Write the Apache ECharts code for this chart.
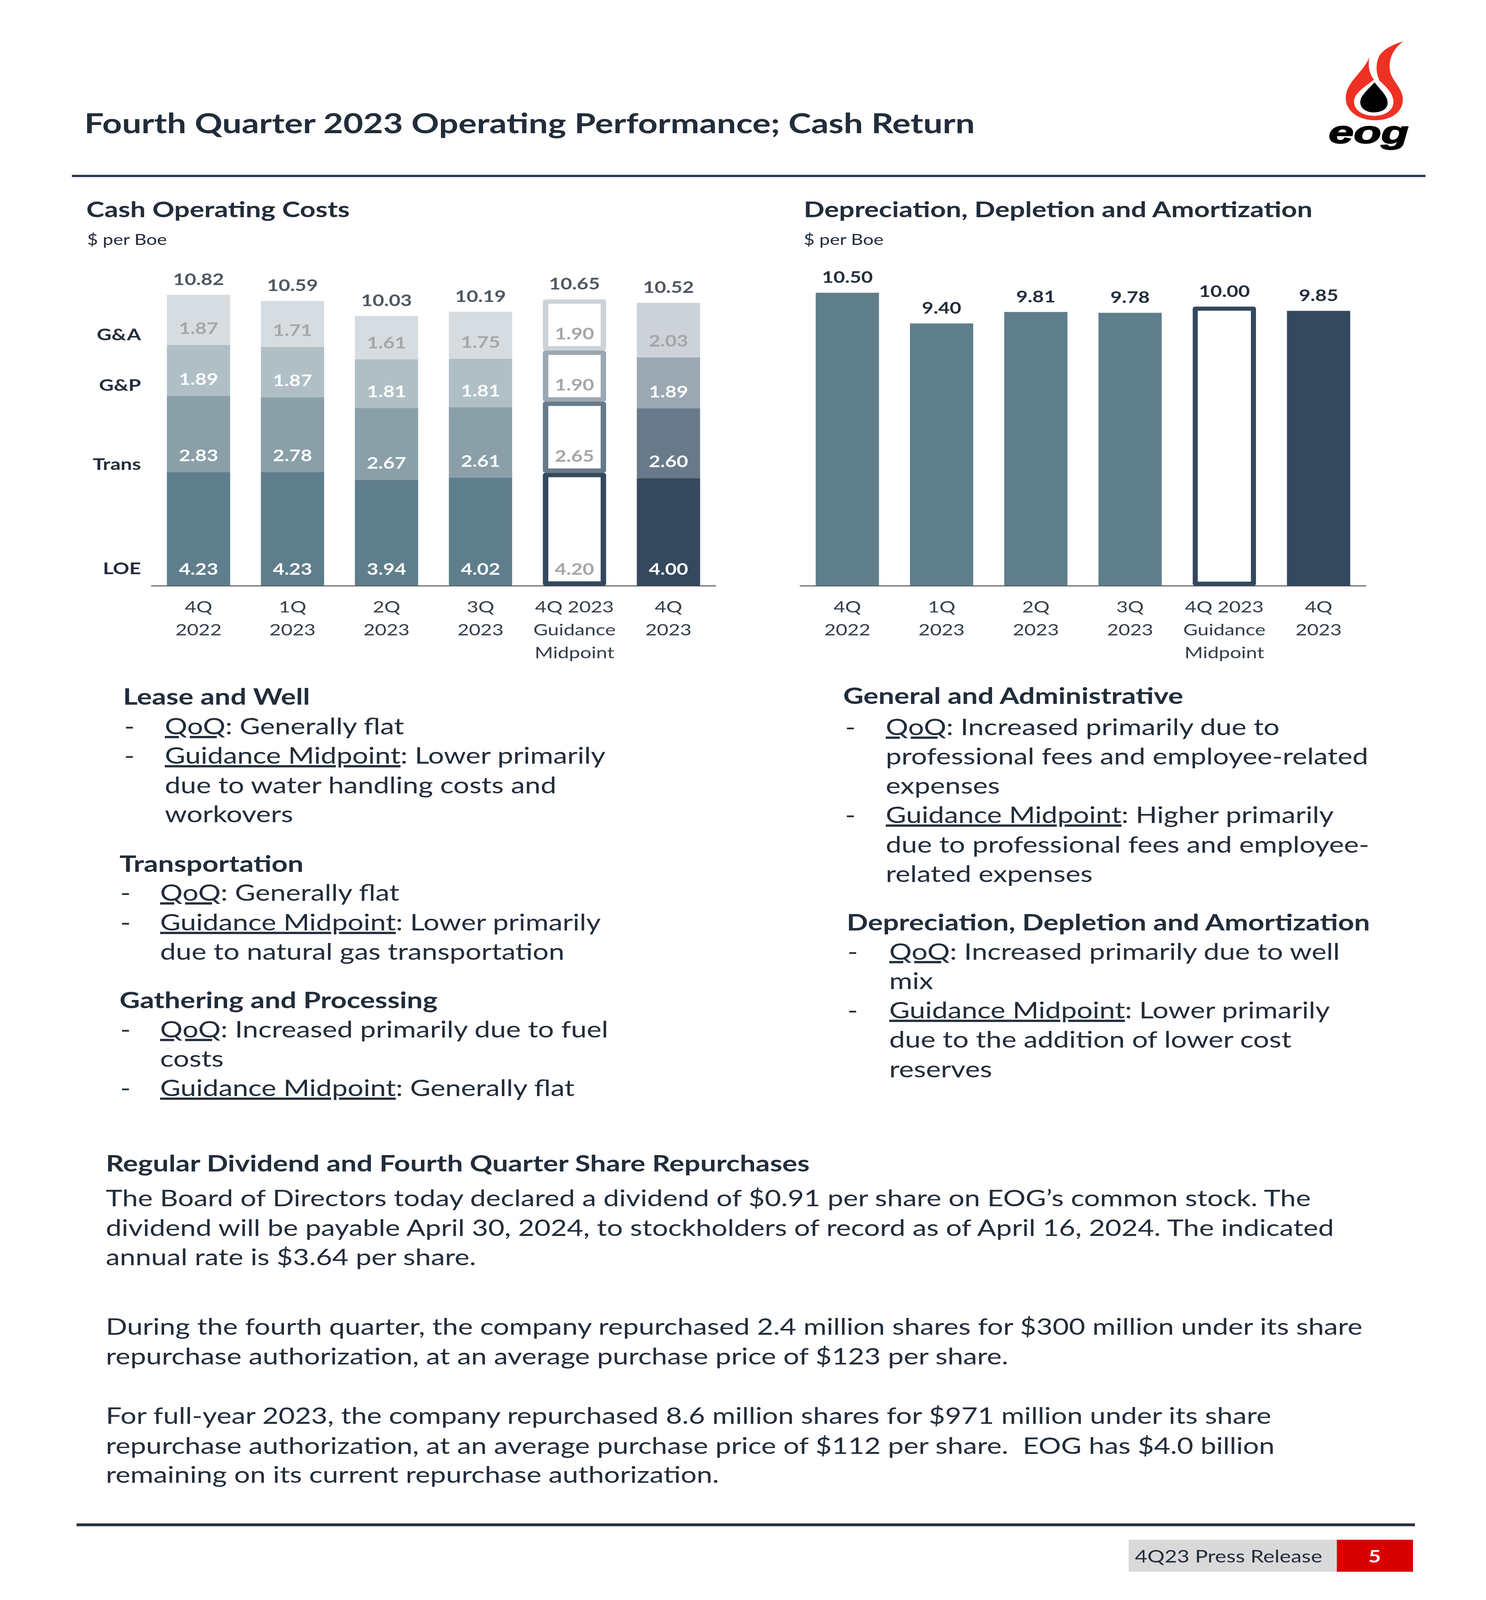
<!DOCTYPE html>
<html>
<head>
<meta charset="utf-8">
<script src="https://cdn.jsdelivr.net/npm/echarts@6/dist/echarts.min.js"></script>
<style>
  html, body { margin:0; padding:0; background:#ffffff; overflow:hidden; }
  #wrap { position:relative; width:3805px; height:5097px; overflow:hidden; background:#fff; }
  #page { position:absolute; left:0; top:0; width:3805px; height:5097px; overflow:hidden; background:#fff; transform-origin:0 0; }
  #chart { position:absolute; left:0; top:0; width:3805px; height:2200px; }
  #overlay { position:absolute; left:0; top:0; width:3805px; height:5097px; pointer-events:none; }
</style>
</head>
<body>
<div id="wrap">
<div id="page">
  <div id="chart"></div>
  <svg id="overlay" xmlns="http://www.w3.org/2000/svg" width="3805" height="5097" viewBox="0 0 3805 5097"></svg>
</div>
</div>
<script>
// ---------------- DATA ----------------
const categories = ['4Q\n2022', '1Q\n2023', '2Q\n2023', '3Q\n2023', '4Q 2023\nGuidance\nMidpoint', '4Q\n2023'];
const loe   = [4.23, 4.23, 3.94, 4.02, 4.20, 4.00];
const trans = [2.83, 2.78, 2.67, 2.61, 2.65, 2.60];
const gp    = [1.89, 1.87, 1.81, 1.81, 1.90, 1.89];
const ga    = [1.87, 1.71, 1.61, 1.75, 1.90, 2.03];
const totals = [10.82, 10.59, 10.03, 10.19, 10.65, 10.52];
const dda   = [10.50, 9.40, 9.81, 9.78, 10.00, 9.85];
const rowLabels = ['G&A', 'G&P', 'Trans', 'LOE'];

// ---------------- FIT PAGE TO VIEWPORT ----------------
const PAGE_W = 3805, PAGE_H = 5097;
(function fit() {
  const vh = window.innerHeight || PAGE_H;
  const sy = Math.min(1, vh / PAGE_H);
  const wrap = document.getElementById('wrap');
  wrap.style.height = Math.floor(PAGE_H * sy) + 'px';
  document.getElementById('page').style.transform = 'scale(1,' + sy + ')';
})();

// ---------------- STYLE ----------------
const NAVY_TEXT = '#222d3b';
const GUIDE = 4, LAST = 5;
const FONT = 'Lato';

const chart = echarts.init(document.getElementById('chart'), null, { renderer: 'canvas', width: 3805, height: 2200 });

const segLabel = {
  show: true, position: 'insideBottom', distance: 26,
  fontFamily: FONT, fontWeight: 'bold', fontSize: 51, lineHeight: 51
};

function segSeries(name, vals, fill, lastFill, labelColor, z) {
  return {
    name: name, type: 'bar', stack: 'cost', xAxisIndex: 0, yAxisIndex: 0,
    barWidth: 162, z: z, emphasis: { disabled: true },
    label: Object.assign({}, segLabel, { color: labelColor, formatter: p => vals[p.dataIndex].toFixed(2) }),
    data: vals.map((v, i) => {
      if (i === GUIDE) return { value: v, itemStyle: { color: '#ffffff', borderColor: lastFill, borderWidth: 14, borderJoin: 'round' }, label: { color: '#a6a6a6' } };
      if (i === LAST) return { value: v, itemStyle: { color: lastFill } };
      return { value: v, itemStyle: { color: fill } };
    })
  };
}

const xAxisCommon = {
  type: 'category', data: categories,
  axisLine: { show: true, lineStyle: { color: '#404040', width: 3 } },
  axisTick: { show: false },
  axisLabel: { interval: 0, fontFamily: FONT, fontSize: 51, lineHeight: 73, color: '#333d4a', margin: 32 }
};

const totalLabel = {
  show: true, position: 'top', distance: 22,
  fontFamily: FONT, fontWeight: 'bold', fontSize: 51, lineHeight: 51, color: NAVY_TEXT
};

const rowLabelY = { 'G&A': 1067, 'G&P': 1228, 'Trans': 1480, 'LOE': 1812 };

const option = {
  animation: false,
  backgroundColor: 'transparent',
  grid: [
    { left: 388, top: 838, width: 1444, height: 1028 },
    { left: 2049, top: 799, width: 1448, height: 1067 }
  ],
  xAxis: [
    Object.assign({ gridIndex: 0 }, xAxisCommon),
    Object.assign({ gridIndex: 1 }, xAxisCommon)
  ],
  yAxis: [
    { type: 'value', gridIndex: 0, min: 0, max: 12, show: false, splitLine: { show: false } },
    { type: 'value', gridIndex: 1, min: 0, max: 12, show: false, splitLine: { show: false } }
  ],
  series: [
    segSeries('LOE', loe, '#5f7e8b', '#34495e', '#ffffff', 5),
    segSeries('Trans', trans, '#8a9fa8', '#687a8a', '#ffffff', 4),
    segSeries('G&P', gp, '#b0bfc6', '#9ba8b2', '#ffffff', 3),
    segSeries('G&A', ga, '#d6dce0', '#ccd2d8', '#a6a6a6', 2),
    {
      name: 'Total', type: 'scatter', xAxisIndex: 0, yAxisIndex: 0, z: 10,
      symbolSize: 1, itemStyle: { color: 'rgba(0,0,0,0)' }, emphasis: { disabled: true },
      label: Object.assign({}, totalLabel, { formatter: p => totals[p.dataIndex].toFixed(2) }),
      data: totals
    },
    {
      name: 'DD&A', type: 'bar', xAxisIndex: 1, yAxisIndex: 1, barWidth: 162, emphasis: { disabled: true },
      label: Object.assign({}, totalLabel, { formatter: p => dda[p.dataIndex].toFixed(2) }),
      data: dda.map((v, i) => {
        if (i === GUIDE) return { value: v, itemStyle: { color: '#ffffff', borderColor: '#34495e', borderWidth: 13, borderJoin: 'round' } };
        if (i === LAST) return { value: v, itemStyle: { color: '#34495e' } };
        return { value: v, itemStyle: { color: '#5f7e8b' } };
      })
    }
  ],
  graphic: rowLabels.map(t => ({
    type: 'text', x: 361, y: rowLabelY[t], silent: true,
    style: { text: t, font: 'bold 52px ' + FONT, fill: NAVY_TEXT, align: 'right', verticalAlign: 'middle' }
  }))
};
chart.setOption(option);

// ---------------- PAGE TEXT (SVG) ----------------
const NS = 'http://www.w3.org/2000/svg';
const svg = document.getElementById('overlay');

function el(tag, attrs, parent) {
  const e = document.createElementNS(NS, tag);
  for (const k in attrs) e.setAttribute(k, attrs[k]);
  (parent || svg).appendChild(e);
  return e;
}
function text(x, y, parts, size, weight, fill, extra) {
  const t = el('text', Object.assign({ x: x, y: y, 'font-family': FONT, 'font-size': size, 'font-weight': weight || 'normal', fill: fill || NAVY_TEXT }, extra || {}));
  (Array.isArray(parts) ? parts : [parts]).forEach(p => {
    const ts = el('tspan', {}, t);
    if (typeof p === 'object') { ts.textContent = p.u; ts.setAttribute('text-decoration', 'underline'); }
    else ts.textContent = p;
  });
  return t;
}

// header
text(216, 424, 'Fourth Quarter 2023 Operating Performance; Cash Return', 88, 'bold');
el('rect', { x: 184, y: 557, width: 3466, height: 7, fill: '#263140' });

// logo
const logo = el('g', { transform: 'translate(3410,120)' });
el('path', { d: 'M183,12 C158,35 143,70 150,110 C156,140 184,165 182,200 C180,240 150,263 110,263 C70,263 37,235 36,195 C35,160 55,135 70,112 C82,95 90,80 97,62 C92,85 95,112 108,134 L122,136 C112,110 112,75 125,52 C138,33 160,20 183,12 Z', fill: '#ee3124' }, logo);
el('path', { d: 'M115,128 C132,150 158,172 158,205 C158,232 136,249 108,249 C80,249 57,232 57,203 C57,176 90,152 115,128 Z', fill: '#ffffff' }, logo);
el('path', { d: 'M110,142 C120,162 143,182 143,208 C143,227 128,238 108,238 C88,238 73,225 73,205 C73,186 92,166 110,142 Z', fill: '#000000' }, logo);
const eog = el('text', { x: -8, y: 335, 'font-family': 'Liberation Sans', 'font-weight': 'bold', 'font-style': 'italic', 'font-size': 100, textLength: 205, lengthAdjust: 'spacingAndGlyphs', fill: '#000', stroke: '#000', 'stroke-width': 3 }, logo);
eog.textContent = 'eog';

// chart titles
text(221, 692, 'Cash Operating Costs', 70, 'bold');
text(223, 780, '$ per Boe', 48, 'normal');
text(2058, 692, 'Depreciation, Depletion and Amortization', 70, 'bold');
text(2058, 780, '$ per Boe', 48, 'normal');

// commentary blocks
const BODY = 72;
function block(hx, hy, heading, dashX, textX, lines) {
  text(hx, hy, heading, BODY, 'bold');
  lines.forEach(l => {
    if (l.dash) text(dashX, l.y, '-', BODY, 'normal');
    text(textX, l.y, l.t, BODY, 'normal');
  });
}
block(315, 2245, 'Lease and Well', 318, 422, [
  { y: 2340, dash: true, t: [{ u: 'QoQ' }, ': Generally flat'] },
  { y: 2433, dash: true, t: [{ u: 'Guidance Midpoint' }, ': Lower primarily'] },
  { y: 2527, t: 'due to water handling costs and' },
  { y: 2620, t: 'workovers' }
]);
block(306, 2777, 'Transportation', 308, 410, [
  { y: 2870, dash: true, t: [{ u: 'QoQ' }, ': Generally flat'] },
  { y: 2964, dash: true, t: [{ u: 'Guidance Midpoint' }, ': Lower primarily'] },
  { y: 3057, t: 'due to natural gas transportation' }
]);
block(306, 3212, 'Gathering and Processing', 308, 410, [
  { y: 3305, dash: true, t: [{ u: 'QoQ' }, ': Increased primarily due to fuel'] },
  { y: 3399, t: 'costs' },
  { y: 3492, dash: true, t: [{ u: 'Guidance Midpoint' }, ': Generally flat'] }
]);
block(2159, 2243, 'General and Administrative', 2164, 2268, [
  { y: 2342, dash: true, t: [{ u: 'QoQ' }, ': Increased primarily due to'] },
  { y: 2435, t: 'professional fees and employee-related' },
  { y: 2529, t: 'expenses' },
  { y: 2622, dash: true, t: [{ u: 'Guidance Midpoint' }, ': Higher primarily'] },
  { y: 2716, t: 'due to professional fees and employee-' },
  { y: 2810, t: 'related expenses' }
]);
block(2168, 2964, 'Depreciation, Depletion and Amortization', 2170, 2277, [
  { y: 3057, dash: true, t: [{ u: 'QoQ' }, ': Increased primarily due to well'] },
  { y: 3151, t: 'mix' },
  { y: 3244, dash: true, t: [{ u: 'Guidance Midpoint' }, ': Lower primarily'] },
  { y: 3338, t: 'due to the addition of lower cost' },
  { y: 3432, t: 'reserves' }
]);

// dividend section
text(271, 3732, 'Regular Dividend and Fourth Quarter Share Repurchases', BODY, 'bold');
[
  [3843, 'The Board of Directors today declared a dividend of $0.91 per share on EOG\u2019s common stock. The'],
  [3937, 'dividend will be payable April 30, 2024, to stockholders of record as of April 16, 2024. The indicated'],
  [4030, 'annual rate is $3.64 per share.'],
  [4252, 'During the fourth quarter, the company repurchased 2.4 million shares for $300 million under its share'],
  [4347, 'repurchase authorization, at an average purchase price of $123 per share.'],
  [4536, 'For full-year 2023, the company repurchased 8.6 million shares for $971 million under its share'],
  [4631, 'repurchase authorization, at an average purchase price of $112 per share.\u00a0 EOG has $4.0 billion'],
  [4724, 'remaining on its current repurchase authorization.']
].forEach(r => text(271, r[0], r[1], BODY, 'normal'));

// footer
el('rect', { x: 196, y: 4853, width: 3427, height: 9, fill: '#263140' });
el('rect', { x: 2890, y: 4905, width: 533, height: 102, fill: '#d9d9d9' });
el('rect', { x: 3423, y: 4905, width: 195, height: 102, fill: '#d90000' });
text(2906, 4977, '4Q23 Press Release', 55, 'normal');
text(3520, 4977, '5', 55, 'bold', '#ffffff', { 'text-anchor': 'middle' });
</script>
</body>
</html>
